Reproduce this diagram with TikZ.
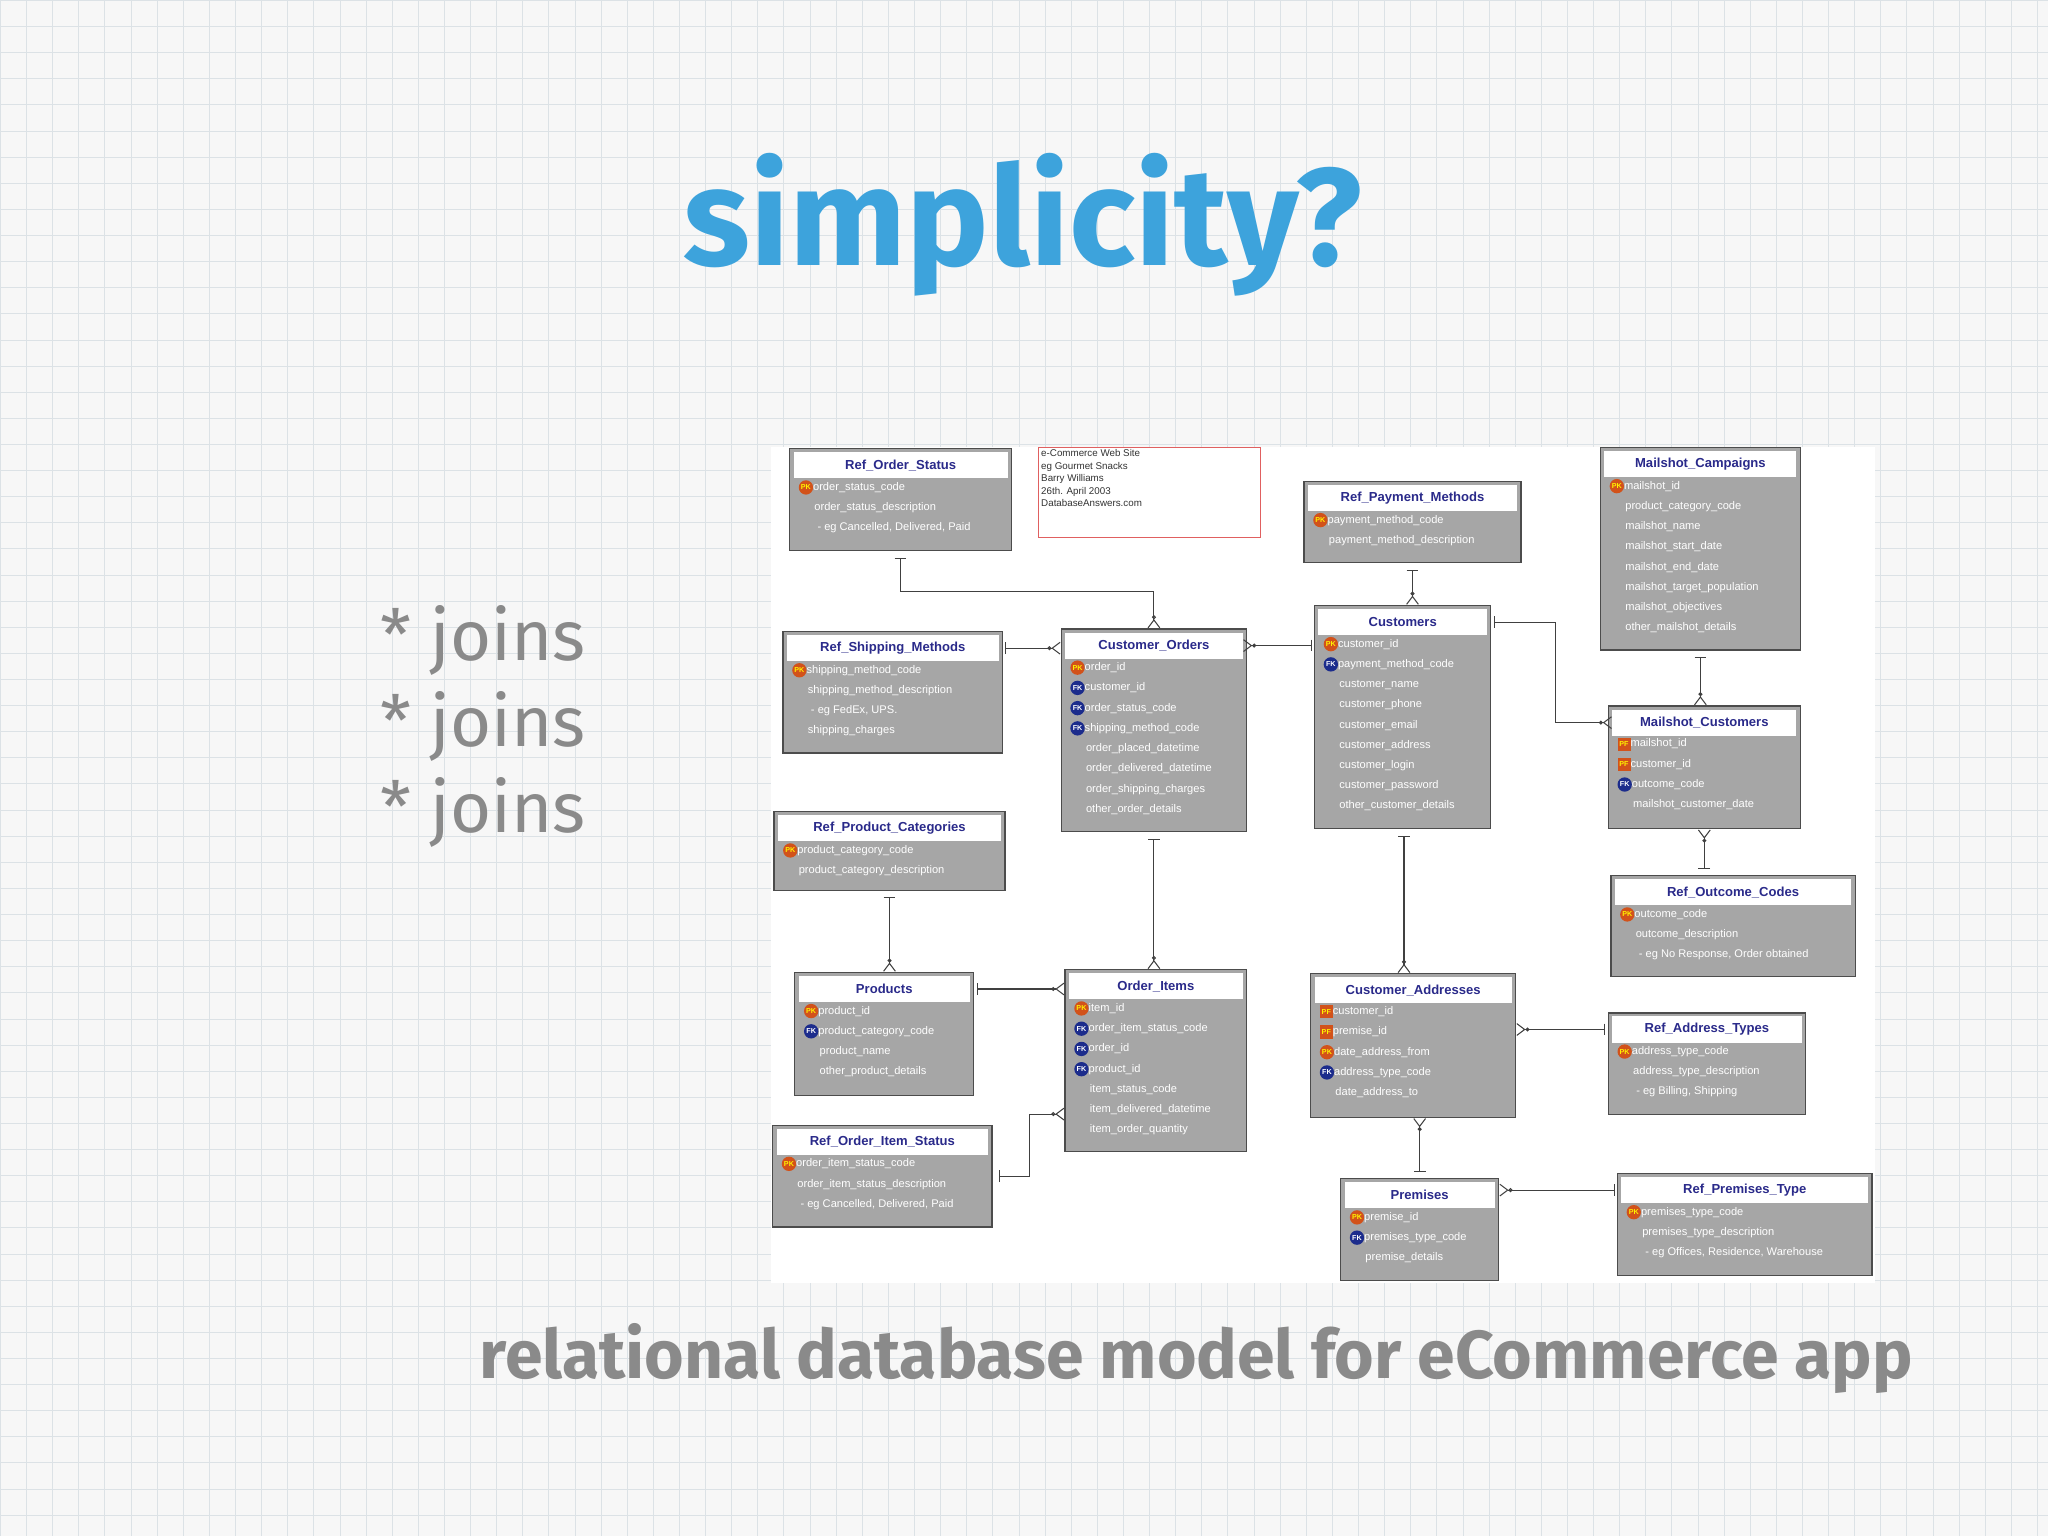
\documentclass[tikz,border=0pt]{standalone}
\usepackage{fontspec}
\setmainfont{Liberation Sans}
\newfontfamily\slidefont{Fira Sans}
\usetikzlibrary{positioning,arrows.meta,calc}
\definecolor{titleblue}{HTML}{3DA3DC}
\definecolor{slidegrey}{HTML}{8A8A8A}
\definecolor{gridline}{HTML}{DCE2E6}
\definecolor{tablegrey}{HTML}{A6A6A6}
\definecolor{headnavy}{HTML}{2A2A8A}
\definecolor{keyorange}{HTML}{D2521A}
\definecolor{keyblue}{HTML}{1C2C8C}
\definecolor{notered}{HTML}{E06060}

\newcommand\pkey{\tikz[baseline=-0.5ex]\node[anchor=center,circle,fill=keyorange,inner sep=0.5pt,minimum size=11pt,text=yellow,font=\fontsize{5.5}{5.5}\selectfont\bfseries]{PK};}
\newcommand\fkey{\tikz[baseline=-0.5ex]\node[anchor=center,circle,fill=keyblue,inner sep=0.5pt,minimum size=11pt,text=white,font=\fontsize{5.5}{5.5}\selectfont\bfseries]{FK};}
\newcommand\pfkey{\tikz[baseline=-0.5ex]\node[anchor=center,rectangle,fill=keyorange,inner sep=0.5pt,minimum size=10pt,text=yellow,font=\fontsize{5.5}{5.5}\selectfont\bfseries]{PF};}
\newcommand\nokey{\hspace*{12pt}}

% table: name, x, y (top left), width, height, title, rows
\newcommand\ertable[7]{%
  \node[erbox, minimum width=#4pt, minimum height=#5pt, anchor=north west] (#1) at (#2,#3) {};
  \node[ertitle, minimum width=#4pt-6pt, anchor=north] (#1-t) at ([yshift=-3pt]#1.north) {#6};
  \node[errows, anchor=north west] at ([xshift=3pt]#1-t.south west) {#7};
}

\begin{document}
\begin{tikzpicture}[x=1pt,y=-1pt,
    erbox/.style={draw=black!70, line width=1pt, fill=tablegrey},
    ertitle/.style={fill=white, inner sep=1pt, minimum height=20pt,
                    font=\fontsize{10}{10}\selectfont\bfseries, text=headnavy},
    errows/.style={inner sep=1pt, align=left, text=white,
                   font=\fontsize{8.5}{15.5}\selectfont},
    rel/.style={draw=black!75, line width=0.8pt,
                {Bar[width=9pt,sep=5pt]}-{Circle[open,length=3pt]Straight Barb[reversed,length=6pt,width=9pt]}},
]
% background
\fill[white!94!gray] (0,0) rectangle (1568,1176);
\foreach \g in {0,20,...,1560} \draw[gridline, line width=0.4pt] (\g,0) -- (\g,1176);
\foreach \g in {0,20,...,1170} \draw[gridline, line width=0.4pt] (0,\g) -- (1568,\g);
\useasboundingbox (0,0) rectangle (1568,1176);

% slide texts
\node[text=titleblue, font=\slidefont\bfseries\fontsize{106}{106}\selectfont] (title) at (783,172) {simplicity?};
\node[text=slidegrey, font=\slidefont\fontsize{54}{66}\selectfont, align=left, anchor=west] (joins) at (288,556) {* joins\\* joins\\* joins};
\node[text=slidegrey, font=\slidefont\bfseries\fontsize{52}{52}\selectfont] (caption) at (916,1040) {relational database model for eCommerce app};

% diagram sheet
\fill[white] (590,342) rectangle (1436,982);

\node[draw=notered, line width=0.8pt, anchor=north west, minimum width=170pt, minimum height=69pt] (note) at (795,342) {};
\node[anchor=north west, align=left, inner sep=2pt, font=\fontsize{7.5}{9.5}\selectfont, text=black!80] (notetext) at (note.north west) {e-Commerce Web Site\\eg Gourmet Snacks\\Barry Williams\\26th. April 2003\\DatabaseAnswers.com};

\ertable{ros}{604}{343}{170}{78}{Ref\_Order\_Status}{\pkey order\_status\_code\\\nokey order\_status\_description\\\nokey\ - eg Cancelled, Delivered, Paid}
\ertable{rsm}{599}{483}{168}{93}{Ref\_Shipping\_Methods}{\pkey shipping\_method\_code\\\nokey shipping\_method\_description\\\nokey\ - eg FedEx, UPS.\\\nokey shipping\_charges}
\ertable{rpc}{592}{621}{177}{60}{Ref\_Product\_Categories}{\pkey product\_category\_code\\\nokey product\_category\_description}
\ertable{pr}{608}{744}{137}{94}{Products}{\pkey product\_id\\\fkey product\_category\_code\\\nokey product\_name\\\nokey other\_product\_details}
\ertable{rois}{591}{861}{168}{78}{Ref\_Order\_Item\_Status}{\pkey order\_item\_status\_code\\\nokey order\_item\_status\_description\\\nokey\ - eg Cancelled, Delivered, Paid}
\ertable{co}{812}{481}{142}{155}{Customer\_Orders}{\pkey order\_id\\\fkey customer\_id\\\fkey order\_status\_code\\\fkey shipping\_method\_code\\\nokey order\_placed\_datetime\\\nokey order\_delivered\_datetime\\\nokey order\_shipping\_charges\\\nokey other\_order\_details}
\ertable{oi}{815}{742}{139}{139}{Order\_Items}{\pkey item\_id\\\fkey order\_item\_status\_code\\\fkey order\_id\\\fkey product\_id\\\nokey item\_status\_code\\\nokey item\_delivered\_datetime\\\nokey item\_order\_quantity}
\ertable{cu}{1006}{463}{135}{171}{Customers}{\pkey customer\_id\\\fkey payment\_method\_code\\\nokey customer\_name\\\nokey customer\_phone\\\nokey customer\_email\\\nokey customer\_address\\\nokey customer\_login\\\nokey customer\_password\\\nokey other\_customer\_details}
\ertable{rpm}{998}{368}{166}{62}{Ref\_Payment\_Methods}{\pkey payment\_method\_code\\\nokey payment\_method\_description}
\ertable{ca}{1003}{745}{157}{110}{Customer\_Addresses}{\pfkey customer\_id\\\pfkey premise\_id\\\pkey date\_address\_from\\\fkey address\_type\_code\\\nokey date\_address\_to}
\ertable{pm}{1026}{902}{121}{78}{Premises}{\pkey premise\_id\\\fkey premises\_type\_code\\\nokey premise\_details}
\ertable{mca}{1225}{342}{153}{155}{Mailshot\_Campaigns}{\pkey mailshot\_id\\\nokey product\_category\_code\\\nokey mailshot\_name\\\nokey mailshot\_start\_date\\\nokey mailshot\_end\_date\\\nokey mailshot\_target\_population\\\nokey mailshot\_objectives\\\nokey other\_mailshot\_details}
\ertable{mc}{1231}{540}{147}{94}{Mailshot\_Customers}{\pfkey mailshot\_id\\\pfkey customer\_id\\\fkey outcome\_code\\\nokey mailshot\_customer\_date}
\ertable{roc}{1233}{670}{187}{77}{Ref\_Outcome\_Codes}{\pkey outcome\_code\\\nokey outcome\_description\\\nokey\ - eg No Response, Order obtained}
\ertable{rat}{1231}{775}{151}{78}{Ref\_Address\_Types}{\pkey address\_type\_code\\\nokey address\_type\_description\\\nokey\ - eg Billing, Shipping}
\ertable{rpt}{1238}{898}{195}{78}{Ref\_Premises\_Type}{\pkey premises\_type\_code\\\nokey premises\_type\_description\\\nokey\ - eg Offices, Residence, Warehouse}

% relationships
\draw[rel] (ros.south) -- ++(0,31) -| (co.north);
\draw[rel] (rsm-t.east) -- (rsm-t.east -| co.west);
\draw[rel] (cu-t.west |- co-t.east) -- (co-t.east);
\draw[rel] (rpm.south) -- (rpm.south |- cu.north);
\draw[rel] (cu-t.east) -- ++(52,0) |- (mc-t.west);
\draw[rel] (mca.south) -- (mca.south |- mc.north);
\draw[rel] (roc.north -| mc.south) -- (mc.south);
\draw[rel] (co.south) -- (co.south |- oi.north);
\draw[rel] (rpc.south) -- (rpc.south |- pr.north);
\draw[rel] (pr-t.east) -- (pr-t.east -| oi.west);
\draw[rel] (rois.east) -- ++(28,0) |- ($(oi.west)+(0,41)$);
\draw[rel] ([xshift=1pt]cu.south) -- ([xshift=1pt]cu.south |- ca.north);
\draw[rel] (rat-t.west) -- (rat-t.west -| ca.east);
\draw[rel] (pm.north) -- (pm.north |- ca.south);
\draw[rel] (rpt-t.west) -- (rpt-t.west -| pm.east);
\end{tikzpicture}
\end{document}
